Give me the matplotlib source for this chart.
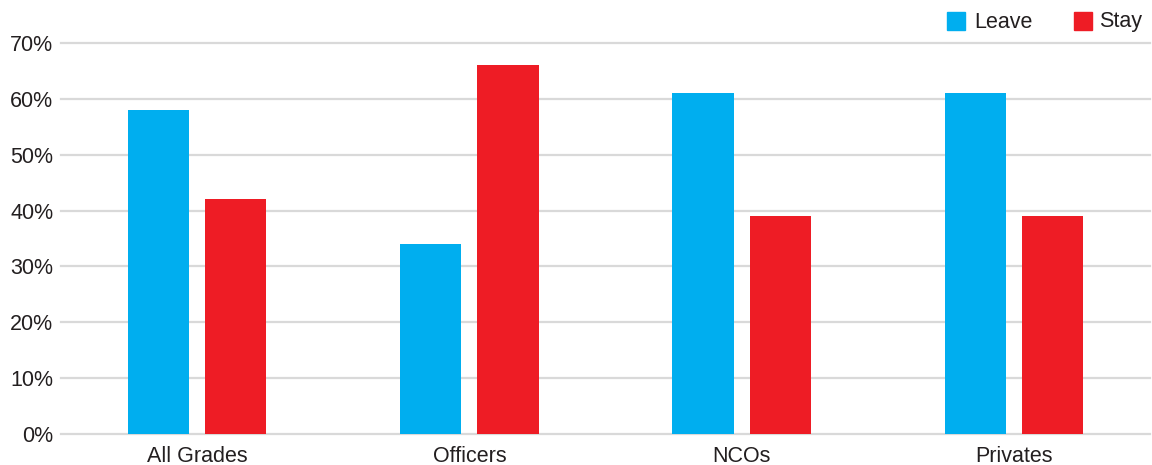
import matplotlib
matplotlib.use("Agg")
import matplotlib.pyplot as plt
from matplotlib.patches import Rectangle
import numpy as np

categories = ["All Grades", "Officers", "NCOs", "Privates"]
leave = [58, 34, 61, 61]
stay = [42, 66, 39, 39]
series_names = ["Leave", "Stay"]
yticks = [0, 10, 20, 30, 40, 50, 60, 70]
ytick_labels = [f"{v}%" for v in yticks]

BLUE = "#00AEEF"
RED = "#EE1C25"
TEXT = "#231F20"
GRID = "#D9D9D9"
FS = 15.5

W, H = 1152, 465
fig = plt.figure(figsize=(W / 100, H / 100), dpi=100)
plt.rcParams["font.family"] = ["Liberation Sans", "DejaVu Sans"]

ax = fig.add_axes([61 / W, 1 - 434 / H, (1150 - 61) / W, (434 - 43) / H])

x = np.arange(len(categories))
width = 0.225
offset = 0.1415
ax.bar(x - offset, leave, width=width, color=BLUE, zorder=3)
ax.bar(x + offset, stay, width=width, color=RED, zorder=3)

ax.set_xlim(-0.5, len(categories) - 0.5)
ax.set_ylim(0, 70)
ax.set_yticks(yticks)
ax.set_yticklabels(ytick_labels, fontsize=FS, color=TEXT, fontfamily="Liberation Sans")
ax.set_xticks(x)
ax.set_xticklabels(categories, fontsize=FS, color=TEXT, fontfamily="Liberation Sans")
ax.tick_params(axis="both", length=0)
ax.tick_params(axis="y", pad=5.5)
ax.tick_params(axis="x", pad=8.5)

for v in yticks:
    ax.axhline(v, color=GRID, linewidth=1.6, zorder=1, clip_on=False)
for s in ax.spines.values():
    s.set_visible(False)

# Legend: colour squares with labels in the top-right corner
def legend_item(x0, gap, color, label):
    fig.add_artist(Rectangle((x0 / W, 1 - 30 / H), 18 / W, 18 / H,
                             transform=fig.transFigure, color=color))
    fig.text((x0 + 18 + gap) / W, 1 - 22 / H, label, fontsize=FS, color=TEXT,
             va="center", ha="left", fontfamily="Liberation Sans")

legend_item(947, 9, BLUE, series_names[0])
legend_item(1074, 7, RED, series_names[1])

fig.savefig("out.png", dpi=100)
